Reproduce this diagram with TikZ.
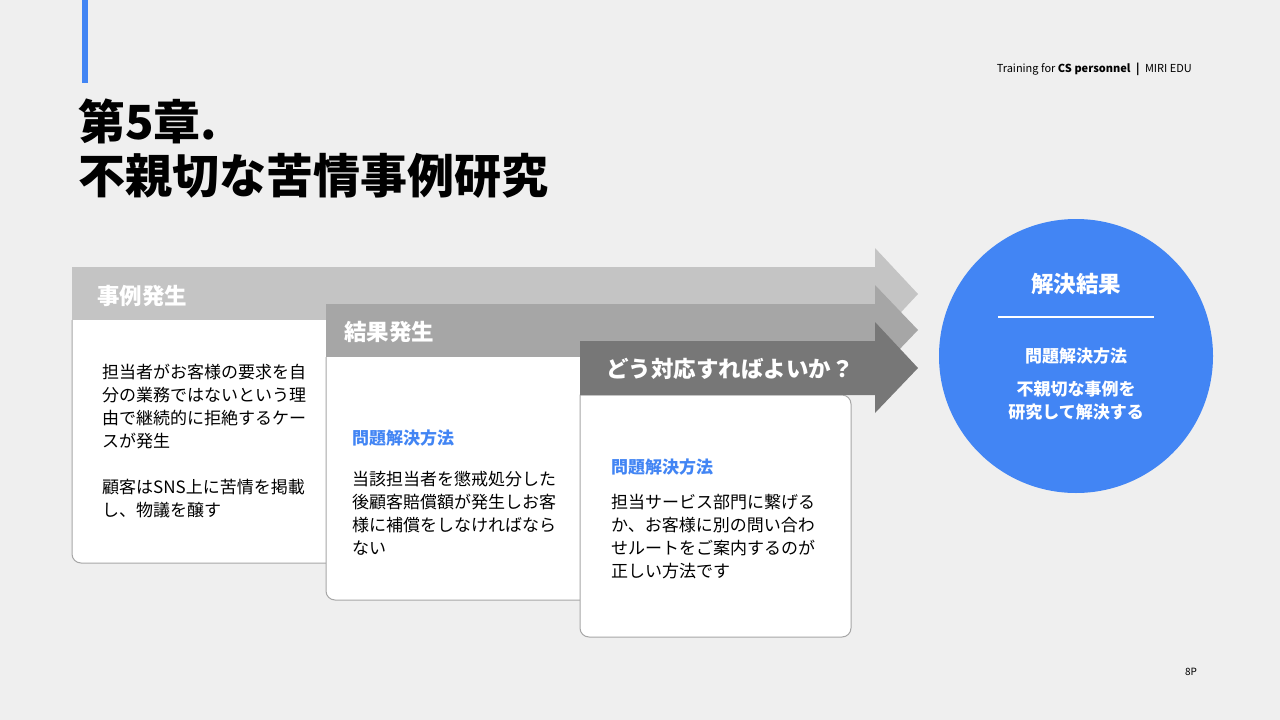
\documentclass[tikz,border=0pt]{standalone}
\usepackage{fontspec}
\setmainfont{Noto Sans CJK JP}
\begin{document}
\begin{tikzpicture}[x=1pt,y=-1pt]
\definecolor{bg}{HTML}{EFEFEF}
\definecolor{blu}{HTML}{4285F4}
\definecolor{a1}{HTML}{C4C4C4}
\definecolor{a2}{HTML}{A6A6A6}
\definecolor{a3}{HTML}{777777}
\tikzset{boxbody/.style={fill=white,draw=gray!70,line width=1pt},
 lbl/.style={anchor=west,text=white,font=\bfseries\fontsize{22.5}{26}\selectfont,inner sep=0},
 body/.style={anchor=north west,align=left,inner sep=0,font=\fontsize{17}{23}\selectfont},
 hd/.style={anchor=west,inner sep=0,text=blu,font=\bfseries\fontsize{17}{20}\selectfont}}
\fill[bg] (0,0) rectangle (1280,720);
\fill[blu] (82,0) rectangle (88,83);
\node[anchor=east,inner sep=0,font=\fontsize{11}{13}\selectfont] (hdr) at (1192,69) {Training for \textbf{CS personnel}\enspace\textbf{|}\enspace MIRI EDU};
\node[anchor=west,inner sep=0,font=\bfseries\fontsize{47}{50}\selectfont] (t1) at (78,121) {第5章.};
\node[anchor=west,inner sep=0,font=\bfseries\fontsize{47}{50}\selectfont] (t2) at (78,176) {不親切な苦情事例研究};
% arrow 1 and box 1
\fill[a1] (72,267) -- (875,267) -- (875,248) -- (918,294) -- (875,340) -- (875,320) -- (72,320) -- cycle;
\filldraw[boxbody] (72,320) [rounded corners=9] -- (72,563) -- (340,563) [sharp corners] -- (340,320);
\node[lbl] (l1) at (97,296) {事例発生};
\node[body] (b1) at (102,364) {担当者がお客様の要求を自\\分の業務ではないという理\\由で継続的に拒絶するケー\\スが発生\\[23pt]顧客はSNS上に苦情を掲載\\し、物議を醸す};
% arrow 2 and box 2
\fill[a2] (326,304) -- (875,304) -- (875,285) -- (918,330) -- (875,375) -- (875,357) -- (326,357) -- cycle;
\filldraw[boxbody] (326,357) [rounded corners=9] -- (326,600) -- (595,600) [sharp corners] -- (595,357);
\node[lbl] (l2) at (344,332) {結果発生};
\node[hd] (h2) at (352,438) {問題解決方法};
\node[body] (b2) at (352,471) {当該担当者を懲戒処分した\\後顧客賠償額が発生しお客\\様に補償をしなければなら\\ない};
% arrow 3 and box 3
\fill[a3] (580,341) -- (875,341) -- (875,322) -- (918,368) -- (875,413) -- (875,395) -- (580,395) -- cycle;
\filldraw[boxbody] (580,395) [rounded corners=9] -- (580,637) -- (851,637) -- (851,395) [sharp corners] -- cycle;
\fill[a3] (580,341) rectangle (851,395);
\node[lbl] (l3) at (606,369) {どう対応すればよいか？};
\node[hd] (h3) at (611,467) {問題解決方法};
\node[body] (b3) at (611,494) {担当サービス部門に繋げる\\か、お客様に別の問い合わ\\せルートをご案内するのが\\正しい方法です};
% circle
\fill[blu] (1076,356) circle (137);
\node[inner sep=0,text=white,font=\bfseries\fontsize{22.5}{26}\selectfont] (c1) at (1076,284) {解決結果};
\draw[white,line width=2pt] (998,317) -- (1154,317);
\node[inner sep=0,text=white,font=\bfseries\fontsize{17}{20}\selectfont] (c2) at (1076,356) {問題解決方法};
\node[inner sep=0,text=white,align=center,font=\bfseries\fontsize{17}{23}\selectfont] (c3) at (1076,401) {不親切な事例を\\研究して解決する};
\node[inner sep=0,font=\fontsize{10}{12}\selectfont] (pg) at (1191,672) {8P};
\end{tikzpicture}
\end{document}
